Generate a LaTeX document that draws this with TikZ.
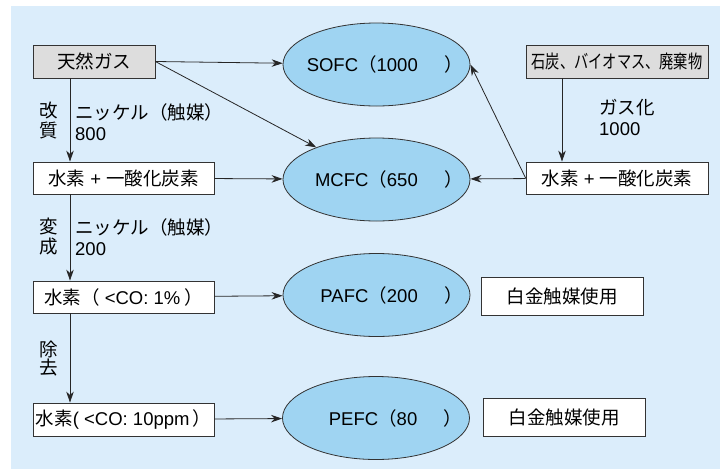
\documentclass[tikz,border=0pt]{standalone}
\usepackage{fontspec}
\setmainfont{Liberation Sans}
\newfontfamily\jp{Noto Sans CJK JP}
\usetikzlibrary{shapes.geometric,arrows.meta}
\definecolor{bgblue}{HTML}{DBEDFB}
\definecolor{ellblue}{HTML}{9FD4F2}
\definecolor{boxgray}{HTML}{DDDDDD}
\definecolor{edgec}{HTML}{333333}
\begin{document}
\begin{tikzpicture}[x=1pt,y=-1pt,
  every node/.style={font=\fontsize{18.5}{21}\selectfont, inner sep=0pt, text=black},
  box/.style={draw=edgec, line width=0.8pt, fill=white, rectangle},
  graybox/.style={box, fill=boxgray},
  fc/.style={ellipse, draw=edgec, line width=0.8pt, fill=ellblue, minimum width=187pt, minimum height=83pt},
  fctext/.style={anchor=east},
  arr/.style={draw=black!85, line width=0.8pt, -{Stealth[length=11pt,width=7.5pt,inset=3.5pt]}},
  lbl/.style={align=left, anchor=west},
  vlbl/.style={align=center, font=\fontsize{18.5}{20}\selectfont},
]
\useasboundingbox (0,0) rectangle (720,469);
\fill[white] (0,0) rectangle (720,469);
\fill[bgblue] (11,6) rectangle (720,469);

% boxes
\node[graybox, minimum width=122pt, minimum height=33pt] (gas) at (94,61.5) {\jp 天然ガス};
\node[box, minimum width=181pt, minimum height=32pt] (h2coL) at (123.5,178) {{\jp 水素} + {\jp 一酸化炭素}};
\node[box, minimum width=181pt, minimum height=32pt] (h2a) at (123.5,297) {{\jp 水素（} <CO: 1\%\hspace{4pt}{\jp ）}};
\node[box, minimum width=181pt, minimum height=33pt] (h2b) at (123.5,419.5) {{\jp 水素}(\hspace{5pt}<CO: 10ppm\hspace{3pt}{\jp ）}};
\node[graybox, minimum width=182pt, minimum height=33pt] (coal) at (617,61.5) {\scalebox{0.77}[1]{\jp 石炭、バイオマス、廃棄物}};
\node[box, minimum width=182pt, minimum height=32pt] (h2coR) at (617,178) {{\jp 水素} + {\jp 一酸化炭素}};
\node[box, minimum width=162pt, minimum height=38pt] (pt1) at (562,296) {\jp 白金触媒使用};
\node[box, minimum width=162pt, minimum height=38pt] (pt2) at (564,417) {\jp 白金触媒使用};

% fuel cells
\node[fc] (sofc) at (376.5,64.5) {};
\node[fctext] (sofcT) at ([xshift=86.5pt]sofc.center) {SOFC{\jp （}1000{\jp 　}\hspace{8pt}{\jp ）}};
\node[fc] (mcfc) at (376.5,179.5) {};
\node[fctext] (mcfcT) at ([xshift=86.5pt]mcfc.center) {MCFC{\jp （}650{\jp 　}\hspace{8pt}{\jp ）}};
\node[fc] (pafc) at (376.5,295) {};
\node[fctext] (pafcT) at ([xshift=86.5pt]pafc.center) {PAFC{\jp （}200{\jp 　}\hspace{8pt}{\jp ）}};
\node[fc] (pefc) at (376,418) {};
\node[fctext] (pefcT) at ([xshift=86.5pt]pefc.center) {PEFC{\jp （}80{\jp 　}\hspace{8pt}{\jp ）}};

% spines
\coordinate (spL) at (70,0);
\coordinate (spR) at (562,0);

% connectors
\draw[arr] (gas.south -| spL) -- (h2coL.north -| spL);
\draw[arr] (h2coL.south -| spL) -- (h2a.north -| spL);
\draw[arr] (h2a.south -| spL) -- (h2b.north -| spL);
\draw[arr] (coal.south -| spR) -- (h2coR.north -| spR);
\draw[arr] (gas.east) -- (sofc);
\draw[arr] (gas.east) -- (mcfc);
\draw[arr] (h2coL) -- (mcfc);
\draw[arr] (h2coR.west) -- (sofc.east);
\draw[arr] (h2coR) -- (mcfc);
\draw[arr] (h2a) -- (pafc);
\draw[arr] (h2b) -- (pefc);

% labels
\node[vlbl] (kai) at (49,120) {\jp 改\\\jp 質};
\node[lbl] (ni1) at (75,122) {{\jp ニッケル（触媒）}\\800};
\node[vlbl] (hen) at (49,237) {\jp 変\\\jp 成};
\node[lbl] (ni2) at (75,237.5) {{\jp ニッケル（触媒）}\\200};
\node[vlbl] (jo) at (49,359) {\jp 除\\[-2pt]\jp 去};
\node[lbl] (gasu) at (599,117.5) {{\jp ガス化}\\1000};
\end{tikzpicture}
\end{document}
